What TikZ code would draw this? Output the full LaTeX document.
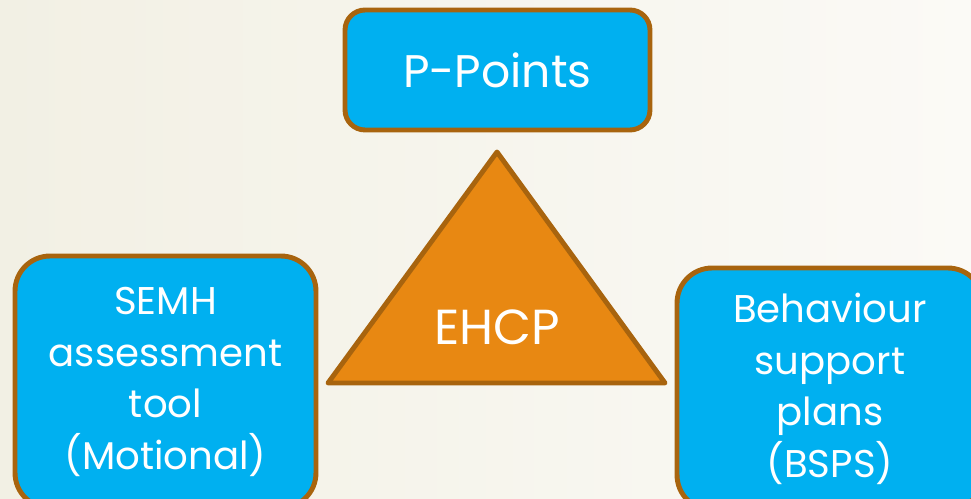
\documentclass[tikz,border=0pt]{standalone}
\usepackage{fontspec}
\setmainfont{Poppins}
\usepackage{tikz}
\usetikzlibrary{backgrounds}
\definecolor{sky}{RGB}{0,176,240}
\definecolor{rust}{RGB}{168,100,14}
\definecolor{amber}{RGB}{232,136,18}
\definecolor{paperL}{RGB}{242,240,228}
\definecolor{paperR}{RGB}{251,250,246}

\begin{document}
\begin{tikzpicture}[
    x=0.02cm, y=-0.02cm,
    box/.style={rectangle, rounded corners=0.7cm, draw=rust, line width=2.8pt,
                fill=sky, text=white, align=center,
                font=\fontsize{22}{29.3}\selectfont},
    toolbox/.style={box, rounded corners=0.4cm,
                font=\fontsize{26}{32}\selectfont},
    tri/.style={draw=rust, fill=amber, line width=2.8pt, line join=round}
  ]
    % page and clipping
    \useasboundingbox (0,0) rectangle (971,499);
    \clip (0,0) rectangle (971,499);
    \fill[left color=paperL, right color=paperR] (0,0) rectangle (971,499);

    % central triangle
    \coordinate (apex)  at (497,152);
    \coordinate (baseL) at (328,383);
    \coordinate (baseR) at (665,383);
    \draw[tri] (apex) -- (baseR) -- (baseL) -- cycle;
    \node[text=white, font=\fontsize{28}{34}\selectfont] (ehcp) at (497,327) {EHCP};

    % the three boxes
    \node[toolbox, minimum width=6.1cm, minimum height=2.4cm] (ppoints) at (497.5,70) {P-Points};
    \node[box, minimum width=6.02cm, minimum height=5.04cm] (semh) at (165.5,382)
        {SEMH\\assessment\\tool\\(Motional)};
    \node[box, minimum width=6.12cm, minimum height=4.84cm] (bsps) at (830,389)
        {Behaviour\\support\\plans\\(BSPS)};
\end{tikzpicture}
\end{document}
